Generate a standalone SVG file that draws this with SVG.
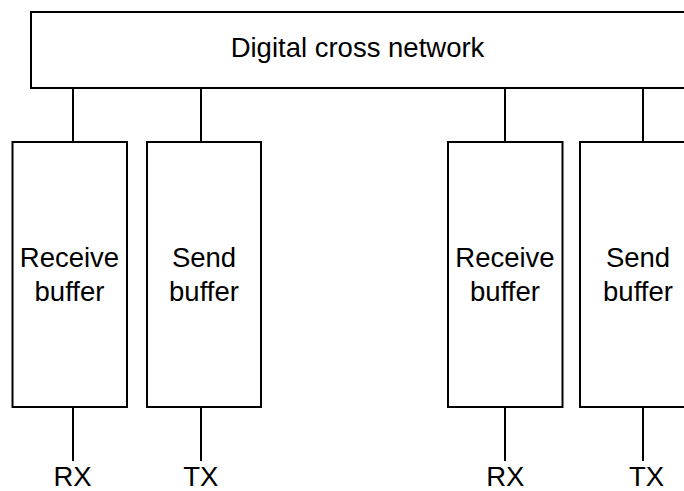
<svg xmlns="http://www.w3.org/2000/svg" width="684" height="491" viewBox="0 0 684 491">
<style>
.box{fill:#fff;stroke:#000;stroke-width:2}
.ln{stroke:#000;stroke-width:2;fill:none}
text{font-family:"Liberation Sans",Arial,sans-serif;font-size:27.5px;fill:#000;text-anchor:middle}
</style>
<rect width="684" height="491" fill="#fff"/>
<g id="connectors">
<line class="ln" x1="73" y1="88" x2="73" y2="142"/>
<line class="ln" x1="201" y1="88" x2="201" y2="142"/>
<line class="ln" x1="505" y1="88" x2="505" y2="142"/>
<line class="ln" x1="643" y1="88" x2="643" y2="142"/>
<line class="ln" x1="73" y1="407" x2="73" y2="461"/>
<line class="ln" x1="201" y1="407" x2="201" y2="461"/>
<line class="ln" x1="505" y1="407" x2="505" y2="461"/>
<line class="ln" x1="643" y1="407" x2="643" y2="461"/>
</g>
<g id="dcn">
<rect class="box" x="31" y="12" width="660" height="76"/>
<text x="357.5" y="57">Digital cross network</text>
</g>
<g id="rx1">
<rect class="box" x="12.5" y="142" width="114.5" height="265"/>
<text x="69.5" y="267">Receive</text>
<text x="69.5" y="301">buffer</text>
</g>
<g id="tx1">
<rect class="box" x="147" y="142" width="114" height="265"/>
<text x="204" y="267">Send</text>
<text x="204" y="301">buffer</text>
</g>
<g id="rx2">
<rect class="box" x="448" y="142" width="114.5" height="265"/>
<text x="505" y="267">Receive</text>
<text x="505" y="301">buffer</text>
</g>
<g id="tx2">
<rect class="box" x="580" y="142" width="114" height="265"/>
<text x="638" y="267">Send</text>
<text x="638" y="301">buffer</text>
</g>
<g id="rx1-label"><text x="72.5" y="486">RX</text></g>
<g id="tx1-label"><text x="200.7" y="486">TX</text></g>
<g id="rx2-label"><text x="505.3" y="486">RX</text></g>
<g id="tx2-label"><text x="646.5" y="486">TX</text></g>
</svg>
